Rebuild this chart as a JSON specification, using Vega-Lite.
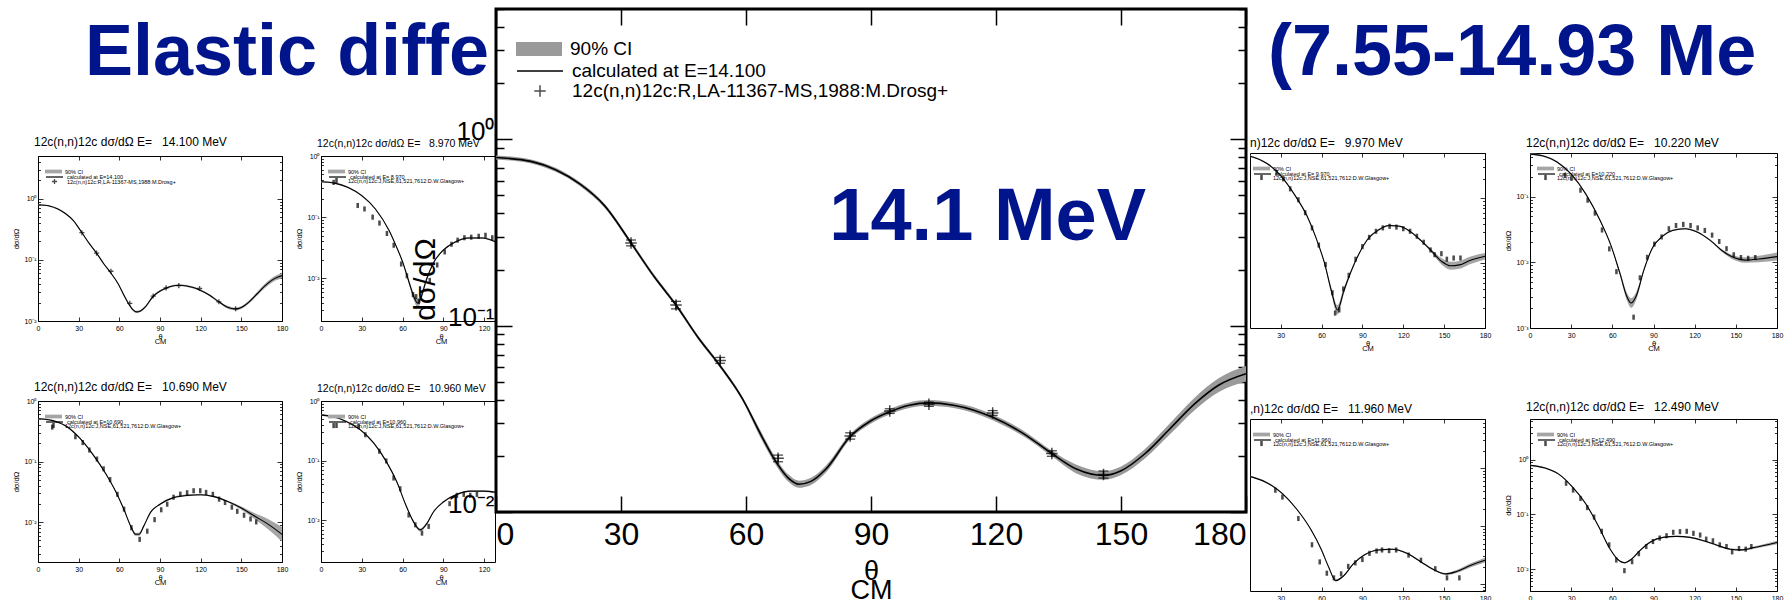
{
 "$schema": "https://vega.github.io/schema/vega-lite/v6.json",
 "background": "white",
 "padding": {"left": 12, "top": 6, "right": 0, "bottom": 0},
 "config": {
  "font": "Liberation Sans",
  "view": {"stroke": "black", "strokeWidth": 1},
  "axis": {"domain": false, "grid": false, "tickColor": "black", "labelColor": "black", "titleColor": "black", "labelFont": "Liberation Sans", "titleFont": "Liberation Sans", "titleFontWeight": "normal", "tickWidth": 0.8},
  "title": {"font": "Liberation Sans", "fontSize": 12, "fontWeight": "normal", "anchor": "start", "frame": "group", "color": "black", "offset": 3, "dx": -4},
  "legend": {"orient": "none", "padding": 0, "labelFont": "Liberation Sans", "labelColor": "black", "labelLimit": 900, "labelOffset": 3, "labelFontSize": 5.5, "symbolSize": 289, "rowPadding": 0}
 },
 "datasets": {
  "c14": [
   {"t":0,"y":0.798,"lo":0.779,"hi":0.818},{"t":8.4,"y":0.761,"lo":0.742,"hi":0.78},{"t":14.3,"y":0.686,"lo":0.669,"hi":0.703},
   {"t":20.2,"y":0.574,"lo":0.56,"hi":0.588},{"t":26.1,"y":0.439,"lo":0.428,"hi":0.45},{"t":32.4,"y":0.278,"lo":0.271,"hi":0.285},
   {"t":37.9,"y":0.184,"lo":0.1795,"hi":0.1886},{"t":43.2,"y":0.129,"lo":0.1259,"hi":0.1322},{"t":48.5,"y":0.0864,"lo":0.0843,"hi":0.0886},
   {"t":53.8,"y":0.0607,"lo":0.0592,"hi":0.0622},{"t":59.1,"y":0.0407,"lo":0.0397,"hi":0.0417},{"t":63.8,"y":0.0254,"lo":0.0243,"hi":0.0265},
   {"t":67.4,"y":0.0183,"lo":0.0175,"hi":0.0191},{"t":70.3,"y":0.0151,"lo":0.01445,"hi":0.01578},{"t":72.7,"y":0.0141,"lo":0.01349,"hi":0.01473},
   {"t":75.6,"y":0.0146,"lo":0.01397,"hi":0.01526},{"t":79.2,"y":0.017,"lo":0.01627,"hi":0.01777},{"t":85,"y":0.0254,"lo":0.02454,"hi":0.02629},
   {"t":89.8,"y":0.0307,"lo":0.02966,"hi":0.03177},{"t":94.5,"y":0.0345,"lo":0.03333,"hi":0.03571},{"t":99.2,"y":0.0374,"lo":0.03614,"hi":0.03871},
   {"t":103.9,"y":0.0385,"lo":0.0372,"hi":0.03985},{"t":109.8,"y":0.0374,"lo":0.03614,"hi":0.03871},{"t":114.5,"y":0.0353,"lo":0.03411,"hi":0.03654},
   {"t":119.2,"y":0.0322,"lo":0.03111,"hi":0.03333},{"t":126.3,"y":0.0266,"lo":0.0257,"hi":0.02753},{"t":133.4,"y":0.0206,"lo":0.0199,"hi":0.02132},
   {"t":139.3,"y":0.017,"lo":0.01611,"hi":0.01794},{"t":145.8,"y":0.0157,"lo":0.01488,"hi":0.01656},{"t":149.9,"y":0.0166,"lo":0.01573,"hi":0.01751},
   {"t":155.8,"y":0.0206,"lo":0.01943,"hi":0.02184},{"t":161.7,"y":0.0279,"lo":0.02607,"hi":0.02985},{"t":167.6,"y":0.0379,"lo":0.03509,"hi":0.04093},
   {"t":173.5,"y":0.048,"lo":0.04404,"hi":0.05232},{"t":180,"y":0.0552,"lo":0.05018,"hi":0.06072}
  ],
  "e14": [
   {"t":32.4,"y":0.278,"lo":0.268,"hi":0.288},{"t":43.2,"y":0.129,"lo":0.123,"hi":0.135},{"t":53.8,"y":0.0651,"lo":0.0628,"hi":0.0675},
   {"t":67.7,"y":0.0194,"lo":0.0186,"hi":0.0202},{"t":85,"y":0.0256,"lo":0.0246,"hi":0.0266},{"t":94.5,"y":0.0348,"lo":0.0338,"hi":0.0358},
   {"t":103.9,"y":0.0379,"lo":0.0369,"hi":0.0389},{"t":119.2,"y":0.034,"lo":0.033,"hi":0.035},{"t":133.4,"y":0.0206,"lo":0.0199,"hi":0.0213},
   {"t":145.8,"y":0.0159,"lo":0.0152,"hi":0.0166}
  ],
  "c897": [
   {"t":0,"y":0.38,"lo":0.369,"hi":0.391},{"t":10,"y":0.36,"lo":0.35,"hi":0.371},{"t":20,"y":0.306,"lo":0.297,"hi":0.315},
   {"t":30,"y":0.225,"lo":0.218,"hi":0.232},{"t":40,"y":0.136,"lo":0.132,"hi":0.14},{"t":50,"y":0.0608,"lo":0.059,"hi":0.0626},
   {"t":55,"y":0.0347,"lo":0.0337,"hi":0.0357},{"t":60,"y":0.0186,"lo":0.0181,"hi":0.0192},{"t":65,"y":0.0083,"lo":0.00769,"hi":0.00896},
   {"t":68.75,"y":0.0047,"lo":0.00409,"hi":0.0054},{"t":71.25,"y":0.0039,"lo":0.0033,"hi":0.0046},{"t":73.75,"y":0.005,"lo":0.00435,"hi":0.00575},
   {"t":77.5,"y":0.0094,"lo":0.0087,"hi":0.01015},{"t":82.5,"y":0.0175,"lo":0.017,"hi":0.018},{"t":90,"y":0.0288,"lo":0.028,"hi":0.0297},
   {"t":98.75,"y":0.0393,"lo":0.0382,"hi":0.0405},{"t":108.75,"y":0.0457,"lo":0.0444,"hi":0.0471},{"t":118.75,"y":0.0457,"lo":0.0444,"hi":0.0471},
   {"t":128.75,"y":0.039,"lo":0.0379,"hi":0.0402},{"t":135,"y":0.033,"lo":0.032,"hi":0.034}
  ],
  "e897": [
   {"t":9.3,"y":0.37},{"t":27,"y":0.155},{"t":32,"y":0.136},{"t":38,"y":0.1},{"t":43,"y":0.08},{"t":48.5,"y":0.054},
   {"t":53.5,"y":0.0347},{"t":59,"y":0.0171},{"t":63.2,"y":0.011},{"t":67.7,"y":0.0054},{"t":70,"y":0.005},{"t":72,"y":0.0042},
   {"t":80,"y":0.0092},{"t":85.5,"y":0.0165},{"t":91,"y":0.027},{"t":96,"y":0.036},{"t":100.5,"y":0.042},{"t":105.5,"y":0.046},
   {"t":110.5,"y":0.047},{"t":116,"y":0.0486},{"t":121,"y":0.0505},{"t":126,"y":0.046}
  ],
  "c1069": [
   {"t":0,"y":0.51,"lo":0.495,"hi":0.525},{"t":11,"y":0.474,"lo":0.46,"hi":0.488},{"t":20.8,"y":0.384,"lo":0.373,"hi":0.396},
   {"t":30.5,"y":0.248,"lo":0.241,"hi":0.255},{"t":40.3,"y":0.133,"lo":0.129,"hi":0.137},{"t":50,"y":0.063,"lo":0.0612,"hi":0.0649},
   {"t":57.4,"y":0.0318,"lo":0.0309,"hi":0.0328},{"t":63.5,"y":0.016,"lo":0.0155,"hi":0.0165},{"t":68.4,"y":0.0086,"lo":0.0082,"hi":0.009},
   {"t":72,"y":0.0063,"lo":0.00594,"hi":0.00668},{"t":74.5,"y":0.0063,"lo":0.00594,"hi":0.00668},{"t":78,"y":0.0086,"lo":0.0082,"hi":0.009},
   {"t":83,"y":0.0145,"lo":0.0141,"hi":0.0149},{"t":90,"y":0.0198,"lo":0.0192,"hi":0.0204},{"t":100,"y":0.0254,"lo":0.0247,"hi":0.0262},
   {"t":110,"y":0.0277,"lo":0.0269,"hi":0.0285},{"t":120,"y":0.0284,"lo":0.0276,"hi":0.0293},{"t":130,"y":0.0264,"lo":0.0256,"hi":0.0272},
   {"t":140,"y":0.0219,"lo":0.0213,"hi":0.0226},{"t":150,"y":0.0171,"lo":0.0161,"hi":0.0181},{"t":160,"y":0.0125,"lo":0.0112,"hi":0.014},
   {"t":170,"y":0.0092,"lo":0.00754,"hi":0.01122},{"t":180,"y":0.0063,"lo":0.00477,"hi":0.00832}
  ],
  "e1069": [
   {"t":10.5,"y":0.37},{"t":27.6,"y":0.257},{"t":33,"y":0.206},{"t":37.9,"y":0.155},{"t":43.5,"y":0.11},{"t":48.4,"y":0.076},
   {"t":53.2,"y":0.0504},{"t":58.6,"y":0.0288},{"t":63.5,"y":0.0164},{"t":68.9,"y":0.0081},{"t":75,"y":0.0052},{"t":80.6,"y":0.0071},
   {"t":86,"y":0.011},{"t":90.9,"y":0.016},{"t":95.3,"y":0.0198},{"t":100,"y":0.0258},{"t":105,"y":0.029},{"t":110,"y":0.0306},
   {"t":114.8,"y":0.033},{"t":119.7,"y":0.033},{"t":124,"y":0.031},{"t":129,"y":0.0288},{"t":133.6,"y":0.024},{"t":138,"y":0.0211},
   {"t":143,"y":0.0177},{"t":147,"y":0.0151},{"t":152,"y":0.013},{"t":156.8,"y":0.0113},{"t":161,"y":0.0101}
  ],
  "c1096": [
   {"t":0,"y":0.58,"lo":0.563,"hi":0.597},{"t":9.3,"y":0.545,"lo":0.529,"hi":0.561},{"t":19,"y":0.45,"lo":0.437,"hi":0.464},
   {"t":29,"y":0.328,"lo":0.318,"hi":0.338},{"t":38.7,"y":0.198,"lo":0.192,"hi":0.204},{"t":48.5,"y":0.0927,"lo":0.09,"hi":0.0955},
   {"t":55.9,"y":0.0434,"lo":0.0421,"hi":0.0447},{"t":62,"y":0.019,"lo":0.0184,"hi":0.0196},{"t":68,"y":0.0095,"lo":0.00905,"hi":0.00998},
   {"t":73,"y":0.0069,"lo":0.00651,"hi":0.00731},{"t":78,"y":0.0089,"lo":0.00848,"hi":0.00935},{"t":82.8,"y":0.0139,"lo":0.0135,"hi":0.0143},
   {"t":90,"y":0.0203,"lo":0.0197,"hi":0.0209},{"t":100,"y":0.0272,"lo":0.0264,"hi":0.028},{"t":109.8,"y":0.0308,"lo":0.0299,"hi":0.0317},
   {"t":120,"y":0.0308,"lo":0.0299,"hi":0.0317},{"t":130,"y":0.029,"lo":0.0282,"hi":0.0299}
  ],
  "e1096": [
   {"t":9.3,"y":0.387},{"t":27.7,"y":0.373},{"t":32.6,"y":0.272},{"t":42.9,"y":0.144},{"t":48,"y":0.0988},{"t":53.4,"y":0.0512},
   {"t":58.3,"y":0.0337},{"t":64.5,"y":0.0123},{"t":69.4,"y":0.0084},{"t":74.3,"y":0.0061},{"t":79.2,"y":0.0079},{"t":94.6,"y":0.019},
   {"t":100,"y":0.0262},{"t":105,"y":0.0272},{"t":109.8,"y":0.0262},{"t":114.7,"y":0.0272}
  ],
  "c997": [
   {"t":0,"y":0.46,"lo":0.447,"hi":0.474},{"t":10,"y":0.43,"lo":0.417,"hi":0.443},{"t":19.7,"y":0.347,"lo":0.337,"hi":0.357},
   {"t":30,"y":0.224,"lo":0.217,"hi":0.231},{"t":40.3,"y":0.113,"lo":0.11,"hi":0.116},{"t":49.3,"y":0.0537,"lo":0.0521,"hi":0.0553},
   {"t":55.7,"y":0.0254,"lo":0.0247,"hi":0.0262},{"t":62.2,"y":0.01,"lo":0.00952,"hi":0.0105},{"t":67.3,"y":0.0037,"lo":0.0033,"hi":0.00414},
   {"t":71.7,"y":0.0019,"lo":0.00161,"hi":0.00224},{"t":76.3,"y":0.0037,"lo":0.0033,"hi":0.00414},{"t":81.5,"y":0.0073,"lo":0.00695,"hi":0.00767},
   {"t":87.9,"y":0.0145,"lo":0.0141,"hi":0.0149},{"t":94.3,"y":0.024,"lo":0.0233,"hi":0.0247},{"t":102,"y":0.0327,"lo":0.0317,"hi":0.0337},
   {"t":109.8,"y":0.038,"lo":0.0369,"hi":0.0391},{"t":117.5,"y":0.037,"lo":0.0359,"hi":0.0381},{"t":125.2,"y":0.0306,"lo":0.0297,"hi":0.0315},
   {"t":132.9,"y":0.0224,"lo":0.0217,"hi":0.0231},{"t":140.6,"y":0.0155,"lo":0.0146,"hi":0.0164},{"t":148.3,"y":0.0106,"lo":0.00946,"hi":0.01187},
   {"t":154.8,"y":0.0091,"lo":0.00791,"hi":0.01047},{"t":161.2,"y":0.0094,"lo":0.00817,"hi":0.01081},{"t":168.9,"y":0.011,"lo":0.00965,"hi":0.01254},
   {"t":180,"y":0.0128,"lo":0.01143,"hi":0.01434}
  ],
  "e997": [
   {"t":27,"y":0.25},{"t":32,"y":0.2},{"t":37,"y":0.14},{"t":43,"y":0.095},{"t":48,"y":0.06},{"t":53,"y":0.035},{"t":58,"y":0.019},
   {"t":63,"y":0.0095},{"t":68,"y":0.0035},{"t":70,"y":0.0017},{"t":73,"y":0.0019},{"t":76,"y":0.004},{"t":80,"y":0.0065},
   {"t":85,"y":0.0115},{"t":90,"y":0.018},{"t":95,"y":0.025},{"t":100,"y":0.031},{"t":105,"y":0.035},{"t":110,"y":0.037},
   {"t":115,"y":0.036},{"t":120,"y":0.034},{"t":125,"y":0.031},{"t":130,"y":0.026},{"t":135,"y":0.021},{"t":140,"y":0.016},
   {"t":143,"y":0.0135},{"t":148,"y":0.014},{"t":152,"y":0.0115},{"t":157,"y":0.012},{"t":162,"y":0.012}
  ],
  "c1022": [
   {"t":0,"y":0.443,"lo":0.43,"hi":0.456},{"t":9.2,"y":0.417,"lo":0.405,"hi":0.43},{"t":19.7,"y":0.336,"lo":0.326,"hi":0.346},
   {"t":30.2,"y":0.217,"lo":0.211,"hi":0.224},{"t":40.7,"y":0.109,"lo":0.106,"hi":0.112},{"t":51.2,"y":0.0427,"lo":0.0415,"hi":0.044},
   {"t":59.1,"y":0.0178,"lo":0.0173,"hi":0.0183},{"t":65.7,"y":0.0066,"lo":0.00611,"hi":0.00713},{"t":70.9,"y":0.0029,"lo":0.00252,"hi":0.00334},
   {"t":73.6,"y":0.0024,"lo":0.00203,"hi":0.00283},{"t":77.5,"y":0.0031,"lo":0.0027,"hi":0.00357},{"t":82.8,"y":0.0074,"lo":0.00698,"hi":0.00784},
   {"t":89.3,"y":0.0167,"lo":0.0162,"hi":0.0172},{"t":95.9,"y":0.0243,"lo":0.0236,"hi":0.025},{"t":103.8,"y":0.0305,"lo":0.0296,"hi":0.0314},
   {"t":113,"y":0.0324,"lo":0.0315,"hi":0.0334},{"t":122.2,"y":0.0286,"lo":0.0278,"hi":0.0295},{"t":131.4,"y":0.0215,"lo":0.0209,"hi":0.0221},
   {"t":140.6,"y":0.0147,"lo":0.014,"hi":0.0154},{"t":148.5,"y":0.0118,"lo":0.0109,"hi":0.0127},{"t":156.3,"y":0.0108,"lo":0.00982,"hi":0.01188},
   {"t":166.8,"y":0.0112,"lo":0.01,"hi":0.01254},{"t":180,"y":0.0122,"lo":0.01061,"hi":0.01403}
  ],
  "e1022": [
   {"t":25.5,"y":0.21},{"t":30.2,"y":0.19},{"t":36.8,"y":0.125},{"t":42,"y":0.088},{"t":47.3,"y":0.056},{"t":52.5,"y":0.031},
   {"t":57.8,"y":0.016},{"t":63,"y":0.0072},{"t":75.5,"y":0.00146},{"t":80.1,"y":0.0058},{"t":85.4,"y":0.0119},{"t":90.6,"y":0.0189},
   {"t":95.9,"y":0.0243},{"t":101.2,"y":0.0324},{"t":106.4,"y":0.0363},{"t":111.7,"y":0.0377},{"t":117,"y":0.0363},{"t":122.2,"y":0.0333},
   {"t":127.4,"y":0.0305},{"t":132.7,"y":0.0259},{"t":137.9,"y":0.0207},{"t":143.2,"y":0.0161},{"t":148.5,"y":0.013},{"t":153.7,"y":0.0118},
   {"t":159,"y":0.0115},{"t":164.2,"y":0.0118}
  ],
  "c1196": [
   {"t":0,"y":0.762,"lo":0.74,"hi":0.785},{"t":10.4,"y":0.684,"lo":0.664,"hi":0.705},{"t":20.9,"y":0.543,"lo":0.527,"hi":0.559},
   {"t":31.3,"y":0.362,"lo":0.351,"hi":0.373},{"t":41.7,"y":0.197,"lo":0.191,"hi":0.203},{"t":52.2,"y":0.0873,"lo":0.0848,"hi":0.0899},
   {"t":60,"y":0.0387,"lo":0.0376,"hi":0.0399},{"t":65.2,"y":0.0197,"lo":0.0191,"hi":0.0203},{"t":70.4,"y":0.0115,"lo":0.011,"hi":0.0121},
   {"t":75.7,"y":0.0135,"lo":0.0131,"hi":0.0139},{"t":83.5,"y":0.0225,"lo":0.0218,"hi":0.0232},{"t":91.3,"y":0.0316,"lo":0.0307,"hi":0.0325},
   {"t":101.7,"y":0.0387,"lo":0.0376,"hi":0.0399},{"t":112.2,"y":0.0398,"lo":0.0386,"hi":0.041},{"t":122.6,"y":0.0339,"lo":0.0329,"hi":0.0349},
   {"t":133,"y":0.0241,"lo":0.0234,"hi":0.0248},{"t":143.5,"y":0.0172,"lo":0.0167,"hi":0.0177},{"t":151.3,"y":0.015,"lo":0.0144,"hi":0.0156},
   {"t":159.1,"y":0.0165,"lo":0.0156,"hi":0.0175},{"t":169.6,"y":0.0211,"lo":0.0195,"hi":0.0228},{"t":180,"y":0.0258,"lo":0.0235,"hi":0.0284}
  ],
  "e1196": [
   {"t":26.1,"y":0.415},{"t":31.3,"y":0.316},{"t":43,"y":0.135},{"t":53,"y":0.0476},{"t":58.7,"y":0.0241},{"t":63.9,"y":0.0154},
   {"t":69.1,"y":0.0128},{"t":74.4,"y":0.015},{"t":79.6,"y":0.0202},{"t":84.8,"y":0.0232},{"t":90,"y":0.0265},{"t":95.2,"y":0.0339},
   {"t":100.4,"y":0.0372},{"t":104.4,"y":0.0387},{"t":109.6,"y":0.0377},{"t":114.8,"y":0.0387},{"t":123.9,"y":0.0316},{"t":133,"y":0.0258},
   {"t":143.5,"y":0.0184},{"t":152.1,"y":0.0128},{"t":161.2,"y":0.0128}
  ],
  "c1249": [
   {"t":0,"y":0.785,"lo":0.762,"hi":0.809},{"t":11,"y":0.701,"lo":0.681,"hi":0.722},{"t":20.9,"y":0.543,"lo":0.527,"hi":0.559},
   {"t":30.7,"y":0.321,"lo":0.312,"hi":0.331},{"t":40.5,"y":0.158,"lo":0.153,"hi":0.163},{"t":50.3,"y":0.0582,"lo":0.0565,"hi":0.0599},
   {"t":57.7,"y":0.0248,"lo":0.0241,"hi":0.0255},{"t":63.9,"y":0.0151,"lo":0.0147,"hi":0.0156},{"t":68.8,"y":0.0131,"lo":0.0127,"hi":0.0135},
   {"t":73.7,"y":0.0151,"lo":0.0147,"hi":0.0156},{"t":79.8,"y":0.0215,"lo":0.0209,"hi":0.0221},{"t":87.2,"y":0.0307,"lo":0.0298,"hi":0.0316},
   {"t":97,"y":0.038,"lo":0.0369,"hi":0.0391},{"t":106.8,"y":0.0397,"lo":0.0385,"hi":0.0409},{"t":116.6,"y":0.038,"lo":0.0369,"hi":0.0391},
   {"t":126.5,"y":0.033,"lo":0.032,"hi":0.034},{"t":136.3,"y":0.0274,"lo":0.0266,"hi":0.0282},{"t":146.1,"y":0.0231,"lo":0.0224,"hi":0.0238},
   {"t":153.5,"y":0.0225,"lo":0.0216,"hi":0.0234},{"t":163.3,"y":0.0248,"lo":0.0236,"hi":0.026},{"t":180,"y":0.0307,"lo":0.0284,"hi":0.0332}
  ],
  "e1249": [
   {"t":26.3,"y":0.37},{"t":31.4,"y":0.278},{"t":36.8,"y":0.195},{"t":41.7,"y":0.133},{"t":46.7,"y":0.0893},{"t":52.3,"y":0.0491},
   {"t":57.7,"y":0.0278},{"t":62.9,"y":0.0147},{"t":68.8,"y":0.0094},{"t":74.4,"y":0.0137},{"t":79.3,"y":0.0192},{"t":84.7,"y":0.0259},
   {"t":89.6,"y":0.032},{"t":94.5,"y":0.037},{"t":99.5,"y":0.0408},{"t":104.4,"y":0.0471},{"t":109.3,"y":0.0484},{"t":114.2,"y":0.0491},
   {"t":119.1,"y":0.0451},{"t":124,"y":0.042},{"t":128.4,"y":0.0354},{"t":133.3,"y":0.033},{"t":138.3,"y":0.0278},{"t":143.2,"y":0.0259},
   {"t":147.3,"y":0.0207},{"t":152.3,"y":0.0238},{"t":157.2,"y":0.0232},{"t":161.3,"y":0.0259}
  ]
 },
 "resolve": {"scale": {"fill": "independent", "stroke": "independent", "shape": "independent"}},
 "spacing": 0,
 "hconcat": [
  {
   "spacing": -103,
   "resolve": {"scale": {"fill": "independent", "stroke": "independent", "shape": "independent"}},
   "hconcat": [
    {
     "spacing": 46,
     "resolve": {"scale": {"fill": "independent", "stroke": "independent", "shape": "independent"}},
     "vconcat": [
      {
       "width": 430, "height": 1,
       "view": {"stroke": null},
       "title": {"text": "Elastic diffe", "orient": "bottom", "anchor": "start", "frame": "group", "fontSize": 72, "fontWeight": "bold", "color": "#00148c", "offset": 8, "dx": 47},
       "data": {"values": [{}]},
       "mark": {"type": "text", "text": " ", "fontSize": 1},
       "encoding": {}
      },
      {
       "columns": 2,
       "align": "each",
       "spacing": {"row": 35, "column": 6},
       "resolve": {"scale": {"fill": "independent", "stroke": "independent", "shape": "independent"}},
       "concat": [
        {
         "width": 244, "height": 165,
         "title": {"text": "12c(n,n)12c dσ/dΩ E=\u00a0\u00a0 14.100 MeV"},
         "layer": [
          {"data": {"name": "c14"}, "mark": {"type": "area", "interpolate": "monotone", "color": "#a5a5a5", "clip": true},
           "encoding": {
            "x": {"field": "t", "type": "quantitative", "scale": {"domain": [0, 180], "nice": false}, "axis": {"orient": "bottom", "values": [0,30,60,90,120,150,180], "labelFontSize": 7, "labelFlush": false, "tickSize": -4, "labelPadding": 7, "title": ["θ", "\u00a0\u00a0\u00a0CM"], "titleFontSize": 7.5, "titleLineHeight": 5, "titlePadding": 1}},
            "y": {"field": "lo", "type": "quantitative", "scale": {"type": "log", "domain": [0.01, 5], "nice": false}, "axis": {"orient": "left", "tickCount": 10, "labelOverlap": false, "labelExpr": "datum.value == 1 ? '10⁰' : datum.value == 0.1 ? '10⁻¹' : datum.value == 0.01 ? '10⁻²' : datum.value == 0.001 ? '10⁻³' : ''", "labelFontSize": 7, "tickSize": {"condition": {"test": "datum.value == 1 || datum.value == 0.1 || datum.value == 0.01 || datum.value == 0.001", "value": -5}, "value": -2.5}, "labelPadding": 7, "title": "dσ/dΩ", "titleFontSize": 7.5, "titlePadding": 3}},
            "y2": {"field": "hi"},
            "fill": {"datum": "90% CI", "scale": {"range": ["#a5a5a5"]}, "legend": {"title": null, "legendX": 7, "legendY": 7, "symbolType": "M-1,-0.22H1V0.22H-1Z", "symbolStrokeWidth": 0}}
           }},
          {"data": {"name": "c14"}, "mark": {"type": "line", "interpolate": "monotone", "strokeWidth": 1.1, "clip": true},
           "encoding": {
            "x": {"field": "t", "type": "quantitative", "axis": {"orient": "top", "values": [0,30,60,90,120,150,180], "labels": false, "tickSize": -4, "title": null}},
            "y": {"field": "y", "type": "quantitative", "axis": {"orient": "right", "tickCount": 10, "labels": false, "tickSize": {"condition": {"test": "datum.value == 1 || datum.value == 0.1 || datum.value == 0.01 || datum.value == 0.001", "value": -5}, "value": -2.5}, "title": null}},
            "stroke": {"datum": "calculated at E=14.100", "scale": {"range": ["black"]}, "legend": {"title": null, "legendX": 7, "legendY": 11.5, "symbolType": "stroke", "symbolStrokeWidth": 1.2}}
           }},
          {"data": {"name": "e14"}, "mark": {"type": "point", "filled": false, "color": "black", "strokeWidth": 1.3, "size": 289, "clip": true},
           "encoding": {
            "x": {"field": "t", "type": "quantitative", "axis": null},
            "y": {"field": "y", "type": "quantitative", "axis": null},
            "shape": {"datum": "12c(n,n)12c:R,LA-11367-MS,1988:M.Drosg+", "scale": {"range": ["M-0.3,0H0.3M0,-0.3V0.3"]}, "legend": {"title": null, "legendX": 7, "legendY": 16, "symbolStrokeColor": "black", "symbolStrokeWidth": 1.3, "symbolFillColor": "transparent"}}
           }}
         ],
         "resolve": {"axis": {"x": "independent", "y": "independent"}}
        },
        {
         "width": 174, "height": 165,
         "title": {"text": "12c(n,n)12c dσ/dΩ E=\u00a0\u00a0 8.970 MeV", "fontSize": 10.5},
         "layer": [
          {"data": {"name": "c897"}, "mark": {"type": "area", "interpolate": "monotone", "color": "#a5a5a5", "clip": true},
           "encoding": {
            "x": {"field": "t", "type": "quantitative", "scale": {"domain": [0, 128], "nice": false}, "axis": {"orient": "bottom", "values": [0,30,60,90,120], "labelFontSize": 7, "labelFlush": false, "tickSize": -4, "labelPadding": 7, "title": ["θ", "\u00a0\u00a0\u00a0CM"], "titleFontSize": 7.5, "titleLineHeight": 5, "titlePadding": 1, "titleX": 120}},
            "y": {"field": "lo", "type": "quantitative", "scale": {"type": "log", "domain": [0.002, 1], "nice": false}, "axis": {"orient": "left", "tickCount": 10, "labelOverlap": false, "labelExpr": "datum.value == 1 ? '10⁰' : datum.value == 0.1 ? '10⁻¹' : datum.value == 0.01 ? '10⁻²' : datum.value == 0.001 ? '10⁻³' : ''", "labelFontSize": 7, "tickSize": {"condition": {"test": "datum.value == 1 || datum.value == 0.1 || datum.value == 0.01 || datum.value == 0.001", "value": -5}, "value": -2.5}, "labelPadding": 7, "title": "dσ/dΩ", "titleFontSize": 7.5, "titlePadding": 3}},
            "y2": {"field": "hi"},
            "fill": {"datum": "90% CI", "scale": {"range": ["#a5a5a5"]}, "legend": {"title": null, "legendX": 7, "legendY": 7, "symbolType": "M-1,-0.22H1V0.22H-1Z", "symbolStrokeWidth": 0}}
           }},
          {"data": {"name": "c897"}, "mark": {"type": "line", "interpolate": "monotone", "strokeWidth": 1.1, "clip": true},
           "encoding": {
            "x": {"field": "t", "type": "quantitative", "axis": {"orient": "top", "values": [0,30,60,90,120], "labels": false, "tickSize": -4, "title": null}},
            "y": {"field": "y", "type": "quantitative", "axis": null},
            "stroke": {"datum": "calculated at E= 8.970", "scale": {"range": ["black"]}, "legend": {"title": null, "legendX": 7, "legendY": 11.5, "symbolType": "stroke", "symbolStrokeWidth": 1.2}}
           }},
          {"data": {"name": "e897"}, "mark": {"type": "point", "filled": true, "color": "black", "size": 289, "clip": true},
           "encoding": {
            "x": {"field": "t", "type": "quantitative", "axis": null},
            "y": {"field": "y", "type": "quantitative", "axis": null},
            "shape": {"datum": "12c(n,n)12c:J,NSE,61,521,7612:D.W.Glasgow+", "scale": {"range": ["M-0.15,-0.3H0.15V0.3H-0.15Z"]}, "legend": {"title": null, "legendX": 7, "legendY": 16, "symbolFillColor": "black", "symbolStrokeWidth": 0}}
           }}
         ],
         "resolve": {"axis": {"x": "independent", "y": "independent"}}
        },
        {
         "width": 244, "height": 161,
         "title": {"text": "12c(n,n)12c dσ/dΩ E=\u00a0\u00a0 10.690 MeV"},
         "layer": [
          {"data": {"name": "c1069"}, "mark": {"type": "area", "interpolate": "monotone", "color": "#a5a5a5", "clip": true},
           "encoding": {
            "x": {"field": "t", "type": "quantitative", "scale": {"domain": [0, 180], "nice": false}, "axis": {"orient": "bottom", "values": [0,30,60,90,120,150,180], "labelFontSize": 7, "labelFlush": false, "tickSize": -4, "labelPadding": 7, "title": ["θ", "\u00a0\u00a0\u00a0CM"], "titleFontSize": 7.5, "titleLineHeight": 5, "titlePadding": 1}},
            "y": {"field": "lo", "type": "quantitative", "scale": {"type": "log", "domain": [0.0022, 1], "nice": false}, "axis": {"orient": "left", "tickCount": 10, "labelOverlap": false, "labelExpr": "datum.value == 1 ? '10⁰' : datum.value == 0.1 ? '10⁻¹' : datum.value == 0.01 ? '10⁻²' : datum.value == 0.001 ? '10⁻³' : ''", "labelFontSize": 7, "tickSize": {"condition": {"test": "datum.value == 1 || datum.value == 0.1 || datum.value == 0.01 || datum.value == 0.001", "value": -5}, "value": -2.5}, "labelPadding": 7, "title": "dσ/dΩ", "titleFontSize": 7.5, "titlePadding": 3}},
            "y2": {"field": "hi"},
            "fill": {"datum": "90% CI", "scale": {"range": ["#a5a5a5"]}, "legend": {"title": null, "legendX": 7, "legendY": 7, "symbolType": "M-1,-0.22H1V0.22H-1Z", "symbolStrokeWidth": 0}}
           }},
          {"data": {"name": "c1069"}, "mark": {"type": "line", "interpolate": "monotone", "strokeWidth": 1.1, "clip": true},
           "encoding": {
            "x": {"field": "t", "type": "quantitative", "axis": {"orient": "top", "values": [0,30,60,90,120,150,180], "labels": false, "tickSize": -4, "title": null}},
            "y": {"field": "y", "type": "quantitative", "axis": {"orient": "right", "tickCount": 10, "labels": false, "tickSize": {"condition": {"test": "datum.value == 1 || datum.value == 0.1 || datum.value == 0.01 || datum.value == 0.001", "value": -5}, "value": -2.5}, "title": null}},
            "stroke": {"datum": "calculated at E=10.690", "scale": {"range": ["black"]}, "legend": {"title": null, "legendX": 7, "legendY": 11.5, "symbolType": "stroke", "symbolStrokeWidth": 1.2}}
           }},
          {"data": {"name": "e1069"}, "mark": {"type": "point", "filled": true, "color": "black", "size": 289, "clip": true},
           "encoding": {
            "x": {"field": "t", "type": "quantitative", "axis": null},
            "y": {"field": "y", "type": "quantitative", "axis": null},
            "shape": {"datum": "12c(n,n)12c:J,NSE,61,521,7612:D.W.Glasgow+", "scale": {"range": ["M-0.15,-0.3H0.15V0.3H-0.15Z"]}, "legend": {"title": null, "legendX": 7, "legendY": 16, "symbolFillColor": "black", "symbolStrokeWidth": 0}}
           }}
         ],
         "resolve": {"axis": {"x": "independent", "y": "independent"}}
        },
        {
         "width": 174, "height": 161,
         "title": {"text": "12c(n,n)12c dσ/dΩ E=\u00a0\u00a0 10.960 MeV", "fontSize": 10.5},
         "layer": [
          {"data": {"name": "c1096"}, "mark": {"type": "area", "interpolate": "monotone", "color": "#a5a5a5", "clip": true},
           "encoding": {
            "x": {"field": "t", "type": "quantitative", "scale": {"domain": [0, 128], "nice": false}, "axis": {"orient": "bottom", "values": [0,30,60,90,120], "labelFontSize": 7, "labelFlush": false, "tickSize": -4, "labelPadding": 7, "title": ["θ", "\u00a0\u00a0\u00a0CM"], "titleFontSize": 7.5, "titleLineHeight": 5, "titlePadding": 1, "titleX": 120}},
            "y": {"field": "lo", "type": "quantitative", "scale": {"type": "log", "domain": [0.002, 1], "nice": false}, "axis": {"orient": "left", "tickCount": 10, "labelOverlap": false, "labelExpr": "datum.value == 1 ? '10⁰' : datum.value == 0.1 ? '10⁻¹' : datum.value == 0.01 ? '10⁻²' : datum.value == 0.001 ? '10⁻³' : ''", "labelFontSize": 7, "tickSize": {"condition": {"test": "datum.value == 1 || datum.value == 0.1 || datum.value == 0.01 || datum.value == 0.001", "value": -5}, "value": -2.5}, "labelPadding": 7, "title": "dσ/dΩ", "titleFontSize": 7.5, "titlePadding": 3}},
            "y2": {"field": "hi"},
            "fill": {"datum": "90% CI", "scale": {"range": ["#a5a5a5"]}, "legend": {"title": null, "legendX": 7, "legendY": 7, "symbolType": "M-1,-0.22H1V0.22H-1Z", "symbolStrokeWidth": 0}}
           }},
          {"data": {"name": "c1096"}, "mark": {"type": "line", "interpolate": "monotone", "strokeWidth": 1.1, "clip": true},
           "encoding": {
            "x": {"field": "t", "type": "quantitative", "axis": {"orient": "top", "values": [0,30,60,90,120], "labels": false, "tickSize": -4, "title": null}},
            "y": {"field": "y", "type": "quantitative", "axis": null},
            "stroke": {"datum": "calculated at E=10.960", "scale": {"range": ["black"]}, "legend": {"title": null, "legendX": 7, "legendY": 11.5, "symbolType": "stroke", "symbolStrokeWidth": 1.2}}
           }},
          {"data": {"name": "e1096"}, "mark": {"type": "point", "filled": true, "color": "black", "size": 289, "clip": true},
           "encoding": {
            "x": {"field": "t", "type": "quantitative", "axis": null},
            "y": {"field": "y", "type": "quantitative", "axis": null},
            "shape": {"datum": "12c(n,n)12c:J,NSE,61,521,7612:D.W.Glasgow+", "scale": {"range": ["M-0.15,-0.3H0.15V0.3H-0.15Z"]}, "legend": {"title": null, "legendX": 7, "legendY": 16, "symbolFillColor": "black", "symbolStrokeWidth": 0}}
           }}
         ],
         "resolve": {"axis": {"x": "independent", "y": "independent"}}
        }
       ]
      }
     ]
    },
    {
     "width": 750, "height": 503,
     "view": {"stroke": "black", "strokeWidth": 3, "fill": "white"},
     "layer": [
      {"data": {"name": "c14"}, "mark": {"type": "area", "interpolate": "monotone", "color": "#9a9a9a", "clip": true},
       "encoding": {
        "x": {"field": "t", "type": "quantitative", "scale": {"domain": [0, 180], "nice": false}, "axis": {"orient": "bottom", "values": [0,30,60,90,120,150,180], "labelFontSize": 32, "labelFlush": true, "tickSize": -16, "tickWidth": 1.5, "labelPadding": 23, "title": ["θ\u00a0\u00a0", "\u00a0\u00a0\u00a0CM"], "titleFontSize": 27, "titleLineHeight": 19, "titlePadding": 8}},
        "y": {"field": "lo", "type": "quantitative", "scale": {"type": "log", "domain": [0.01, 5], "nice": false}, "axis": {"orient": "left", "tickCount": 10, "labelOverlap": false, "labelExpr": "datum.value == 1 ? '10⁰' : datum.value == 0.1 ? '10⁻¹' : datum.value == 0.01 ? '10⁻²' : ''", "labelFontSize": {"condition": {"test": "datum.value == 1 || datum.value == 0.1 || datum.value == 0.01", "value": 26}, "value": 0}, "labelBaseline": "alphabetic", "tickWidth": 1.5, "tickSize": {"condition": {"test": "datum.value == 1 || datum.value == 0.1 || datum.value == 0.01", "value": -16}, "value": -8}, "labelPadding": 18, "title": "dσ/dΩ", "titleFontSize": 30, "titlePadding": 7, "titleY": 270}},
        "y2": {"field": "hi"},
        "fill": {"datum": "90% CI", "scale": {"range": ["#9a9a9a"]}, "legend": {"title": null, "legendX": 20, "legendY": 17, "symbolType": "M-1,-0.3H1V0.3H-1Z", "symbolSize": 2116, "symbolStrokeWidth": 0, "labelFontSize": 19, "labelOffset": 8}}
       }},
      {"data": {"name": "c14"}, "mark": {"type": "line", "interpolate": "monotone", "strokeWidth": 1.6, "clip": true},
       "encoding": {
        "x": {"field": "t", "type": "quantitative", "axis": {"orient": "top", "values": [0,30,60,90,120,150,180], "labels": false, "tickSize": -16, "tickWidth": 1.5, "title": null, "minExtent": 0}},
        "y": {"field": "y", "type": "quantitative", "axis": {"orient": "right", "tickCount": 10, "labels": false, "tickWidth": 1.5, "tickSize": {"condition": {"test": "datum.value == 1 || datum.value == 0.1 || datum.value == 0.01", "value": -16}, "value": -8}, "title": null, "minExtent": 0}},
        "stroke": {"datum": "calculated at E=14.100", "scale": {"range": ["black"]}, "legend": {"title": null, "legendX": 20, "legendY": 38, "symbolType": "stroke", "symbolSize": 2116, "symbolStrokeWidth": 1.6, "labelFontSize": 19, "labelOffset": 8}}
       }},
      {"data": {"name": "e14"}, "mark": {"type": "rule", "color": "black", "strokeWidth": 1.3},
       "encoding": {
        "x": {"field": "t", "type": "quantitative", "axis": null},
        "y": {"field": "lo", "type": "quantitative", "axis": null},
        "y2": {"field": "hi"}
       }},
      {"data": {"name": "e14"}, "mark": {"type": "tick", "color": "black", "orient": "horizontal", "size": 10, "thickness": 1.3},
       "encoding": {
        "x": {"field": "t", "type": "quantitative", "axis": null},
        "y": {"field": "lo", "type": "quantitative", "axis": null}
       }},
      {"data": {"name": "e14"}, "mark": {"type": "tick", "color": "black", "orient": "horizontal", "size": 10, "thickness": 1.3},
       "encoding": {
        "x": {"field": "t", "type": "quantitative", "axis": null},
        "y": {"field": "hi", "type": "quantitative", "axis": null}
       }},
      {"data": {"name": "e14"}, "mark": {"type": "point", "filled": false, "color": "black", "strokeWidth": 1.5, "size": 2116},
       "encoding": {
        "x": {"field": "t", "type": "quantitative", "axis": null},
        "y": {"field": "y", "type": "quantitative", "axis": null},
        "shape": {"datum": "12c(n,n)12c:R,LA-11367-MS,1988:M.Drosg+", "scale": {"range": ["M-0.25,0H0.25M0,-0.25V0.25"]}, "legend": {"title": null, "legendX": 20, "legendY": 58, "symbolSize": 2116, "symbolStrokeColor": "black", "symbolStrokeWidth": 1.5, "symbolFillColor": "transparent", "labelFontSize": 19, "labelOffset": 8}}
       }},
      {"data": {"values": [{}]}, "mark": {"type": "text", "text": "14.1 MeV", "font": "Liberation Sans", "fontSize": 74, "fontWeight": "bold", "color": "#00148c", "align": "center", "baseline": "middle"},
       "encoding": {
        "x": {"datum": 118, "type": "quantitative", "axis": null},
        "y": {"datum": 0.38, "type": "quantitative", "axis": null}
       }}
     ],
     "resolve": {"axis": {"x": "independent", "y": "independent"}}
    }
   ]
  },
  {
   "spacing": 47,
   "resolve": {"scale": {"fill": "independent", "stroke": "independent", "shape": "independent"}},
   "vconcat": [
    {
     "width": 500, "height": 1,
     "view": {"stroke": null},
     "title": {"text": "(7.55-14.93 Me", "orient": "bottom", "anchor": "start", "frame": "group", "fontSize": 72, "fontWeight": "bold", "color": "#00148c", "offset": 8, "dx": 18},
     "data": {"values": [{}]},
     "mark": {"type": "text", "text": " ", "fontSize": 1},
     "encoding": {}
    },
    {
     "columns": 2,
     "align": "each",
     "spacing": {"row": 48, "column": 12},
     "resolve": {"scale": {"fill": "independent", "stroke": "independent", "shape": "independent"}},
     "concat": [
      {
       "width": 235, "height": 175,
       "title": {"text": "n)12c dσ/dΩ E=\u00a0\u00a0 9.970 MeV", "dx": 0},
       "layer": [
        {"data": {"name": "c997"}, "mark": {"type": "area", "interpolate": "monotone", "color": "#a5a5a5", "clip": true},
         "encoding": {
          "x": {"field": "t", "type": "quantitative", "scale": {"domain": [7.5, 180], "nice": false, "zero": false}, "axis": {"orient": "bottom", "values": [30,60,90,120,150,180], "labelFontSize": 7, "labelFlush": false, "tickSize": -4, "labelPadding": 7, "title": ["θ", "\u00a0\u00a0\u00a0CM"], "titleFontSize": 7.5, "titleLineHeight": 5, "titlePadding": 1}},
          "y": {"field": "lo", "type": "quantitative", "scale": {"type": "log", "domain": [0.001, 0.5], "nice": false}, "axis": null},
          "y2": {"field": "hi"},
          "fill": {"datum": "90% CI", "scale": {"range": ["#a5a5a5"]}, "legend": {"title": null, "legendX": 3, "legendY": 7, "symbolType": "M-1,-0.22H1V0.22H-1Z", "symbolStrokeWidth": 0}}
         }},
        {"data": {"name": "c997"}, "mark": {"type": "line", "interpolate": "monotone", "strokeWidth": 1.1, "clip": true},
         "encoding": {
          "x": {"field": "t", "type": "quantitative", "axis": {"orient": "top", "values": [30,60,90,120,150,180], "labels": false, "tickSize": -4, "title": null}},
          "y": {"field": "y", "type": "quantitative", "axis": {"orient": "right", "tickCount": 10, "labels": false, "tickSize": {"condition": {"test": "datum.value == 1 || datum.value == 0.1 || datum.value == 0.01 || datum.value == 0.001", "value": -5}, "value": -2.5}, "title": null}},
          "stroke": {"datum": "calculated at E= 9.970", "scale": {"range": ["black"]}, "legend": {"title": null, "legendX": 3, "legendY": 11.5, "symbolType": "stroke", "symbolStrokeWidth": 1.2}}
         }},
        {"data": {"name": "e997"}, "mark": {"type": "point", "filled": true, "color": "black", "size": 289, "clip": true},
         "encoding": {
          "x": {"field": "t", "type": "quantitative", "axis": null},
          "y": {"field": "y", "type": "quantitative", "axis": null},
          "shape": {"datum": "12c(n,n)12c:J,NSE,61,521,7612:D.W.Glasgow+", "scale": {"range": ["M-0.15,-0.3H0.15V0.3H-0.15Z"]}, "legend": {"title": null, "legendX": 3, "legendY": 16, "symbolFillColor": "black", "symbolStrokeWidth": 0}}
         }}
       ],
       "resolve": {"axis": {"x": "independent", "y": "independent"}}
      },
      {
       "width": 247, "height": 175,
       "title": {"text": "12c(n,n)12c dσ/dΩ E=\u00a0\u00a0 10.220 MeV"},
       "layer": [
        {"data": {"name": "c1022"}, "mark": {"type": "area", "interpolate": "monotone", "color": "#a5a5a5", "clip": true},
         "encoding": {
          "x": {"field": "t", "type": "quantitative", "scale": {"domain": [0, 180], "nice": false}, "axis": {"orient": "bottom", "values": [0,30,60,90,120,150,180], "labelFontSize": 7, "labelFlush": false, "tickSize": -4, "labelPadding": 7, "title": ["θ", "\u00a0\u00a0\u00a0CM"], "titleFontSize": 7.5, "titleLineHeight": 5, "titlePadding": 1}},
          "y": {"field": "lo", "type": "quantitative", "scale": {"type": "log", "domain": [0.001, 0.46], "nice": false}, "axis": {"orient": "left", "tickCount": 10, "labelOverlap": false, "labelExpr": "datum.value == 1 ? '10⁰' : datum.value == 0.1 ? '10⁻¹' : datum.value == 0.01 ? '10⁻²' : datum.value == 0.001 ? '10⁻³' : ''", "labelFontSize": 7, "tickSize": {"condition": {"test": "datum.value == 1 || datum.value == 0.1 || datum.value == 0.01 || datum.value == 0.001", "value": -5}, "value": -2.5}, "labelPadding": 7, "title": "dσ/dΩ", "titleFontSize": 7.5, "titlePadding": 3}},
          "y2": {"field": "hi"},
          "fill": {"datum": "90% CI", "scale": {"range": ["#a5a5a5"]}, "legend": {"title": null, "legendX": 7, "legendY": 7, "symbolType": "M-1,-0.22H1V0.22H-1Z", "symbolStrokeWidth": 0}}
         }},
        {"data": {"name": "c1022"}, "mark": {"type": "line", "interpolate": "monotone", "strokeWidth": 1.1, "clip": true},
         "encoding": {
          "x": {"field": "t", "type": "quantitative", "axis": {"orient": "top", "values": [0,30,60,90,120,150,180], "labels": false, "tickSize": -4, "title": null}},
          "y": {"field": "y", "type": "quantitative", "axis": {"orient": "right", "tickCount": 10, "labels": false, "minExtent": 0, "tickSize": {"condition": {"test": "datum.value == 1 || datum.value == 0.1 || datum.value == 0.01 || datum.value == 0.001", "value": -5}, "value": -2.5}, "title": null}},
          "stroke": {"datum": "calculated at E=10.220", "scale": {"range": ["black"]}, "legend": {"title": null, "legendX": 7, "legendY": 11.5, "symbolType": "stroke", "symbolStrokeWidth": 1.2}}
         }},
        {"data": {"name": "e1022"}, "mark": {"type": "point", "filled": true, "color": "black", "size": 289, "clip": true},
         "encoding": {
          "x": {"field": "t", "type": "quantitative", "axis": null},
          "y": {"field": "y", "type": "quantitative", "axis": null},
          "shape": {"datum": "12c(n,n)12c:J,NSE,61,521,7612:D.W.Glasgow+", "scale": {"range": ["M-0.15,-0.3H0.15V0.3H-0.15Z"]}, "legend": {"title": null, "legendX": 7, "legendY": 16, "symbolFillColor": "black", "symbolStrokeWidth": 0}}
         }}
       ],
       "resolve": {"axis": {"x": "independent", "y": "independent"}}
      },
      {
       "width": 235, "height": 172,
       "title": {"text": ",n)12c dσ/dΩ E=\u00a0\u00a0 11.960 MeV", "dx": 0},
       "layer": [
        {"data": {"name": "c1196"}, "mark": {"type": "area", "interpolate": "monotone", "color": "#a5a5a5", "clip": true},
         "encoding": {
          "x": {"field": "t", "type": "quantitative", "scale": {"domain": [7.5, 180], "nice": false, "zero": false}, "axis": {"orient": "bottom", "values": [30,60,90,120,150,180], "labelFontSize": 7, "labelFlush": false, "tickSize": -4, "labelPadding": 7, "title": ["θ", "\u00a0\u00a0\u00a0CM"], "titleFontSize": 7.5, "titleLineHeight": 5, "titlePadding": 1}},
          "y": {"field": "lo", "type": "quantitative", "scale": {"type": "log", "domain": [0.0076, 7], "nice": false}, "axis": null},
          "y2": {"field": "hi"},
          "fill": {"datum": "90% CI", "scale": {"range": ["#a5a5a5"]}, "legend": {"title": null, "legendX": 3, "legendY": 7, "symbolType": "M-1,-0.22H1V0.22H-1Z", "symbolStrokeWidth": 0}}
         }},
        {"data": {"name": "c1196"}, "mark": {"type": "line", "interpolate": "monotone", "strokeWidth": 1.1, "clip": true},
         "encoding": {
          "x": {"field": "t", "type": "quantitative", "axis": {"orient": "top", "values": [30,60,90,120,150,180], "labels": false, "tickSize": -4, "title": null}},
          "y": {"field": "y", "type": "quantitative", "axis": {"orient": "right", "tickCount": 10, "labels": false, "tickSize": {"condition": {"test": "datum.value == 1 || datum.value == 0.1 || datum.value == 0.01 || datum.value == 0.001", "value": -5}, "value": -2.5}, "title": null}},
          "stroke": {"datum": "calculated at E=11.960", "scale": {"range": ["black"]}, "legend": {"title": null, "legendX": 3, "legendY": 11.5, "symbolType": "stroke", "symbolStrokeWidth": 1.2}}
         }},
        {"data": {"name": "e1196"}, "mark": {"type": "point", "filled": true, "color": "black", "size": 289, "clip": true},
         "encoding": {
          "x": {"field": "t", "type": "quantitative", "axis": null},
          "y": {"field": "y", "type": "quantitative", "axis": null},
          "shape": {"datum": "12c(n,n)12c:J,NSE,61,521,7612:D.W.Glasgow+", "scale": {"range": ["M-0.15,-0.3H0.15V0.3H-0.15Z"]}, "legend": {"title": null, "legendX": 3, "legendY": 16, "symbolFillColor": "black", "symbolStrokeWidth": 0}}
         }}
       ],
       "resolve": {"axis": {"x": "independent", "y": "independent"}}
      },
      {
       "width": 247, "height": 172,
       "title": {"text": "12c(n,n)12c dσ/dΩ E=\u00a0\u00a0 12.490 MeV"},
       "layer": [
        {"data": {"name": "c1249"}, "mark": {"type": "area", "interpolate": "monotone", "color": "#a5a5a5", "clip": true},
         "encoding": {
          "x": {"field": "t", "type": "quantitative", "scale": {"domain": [0, 180], "nice": false}, "axis": {"orient": "bottom", "values": [0,30,60,90,120,150,180], "labelFontSize": 7, "labelFlush": false, "tickSize": -4, "labelPadding": 7, "title": "θ", "titleFontSize": 7.5, "titlePadding": 2}},
          "y": {"field": "lo", "type": "quantitative", "scale": {"type": "log", "domain": [0.004, 5.5], "nice": false}, "axis": {"orient": "left", "tickCount": 10, "labelOverlap": false, "labelExpr": "datum.value == 1 ? '10⁰' : datum.value == 0.1 ? '10⁻¹' : datum.value == 0.01 ? '10⁻²' : datum.value == 0.001 ? '10⁻³' : ''", "labelFontSize": 7, "tickSize": {"condition": {"test": "datum.value == 1 || datum.value == 0.1 || datum.value == 0.01 || datum.value == 0.001", "value": -5}, "value": -2.5}, "labelPadding": 7, "title": "dσ/dΩ", "titleFontSize": 7.5, "titlePadding": 3}},
          "y2": {"field": "hi"},
          "fill": {"datum": "90% CI", "scale": {"range": ["#a5a5a5"]}, "legend": {"title": null, "legendX": 7, "legendY": 7, "symbolType": "M-1,-0.22H1V0.22H-1Z", "symbolStrokeWidth": 0}}
         }},
        {"data": {"name": "c1249"}, "mark": {"type": "line", "interpolate": "monotone", "strokeWidth": 1.1, "clip": true},
         "encoding": {
          "x": {"field": "t", "type": "quantitative", "axis": {"orient": "top", "values": [0,30,60,90,120,150,180], "labels": false, "tickSize": -4, "title": null}},
          "y": {"field": "y", "type": "quantitative", "axis": {"orient": "right", "tickCount": 10, "labels": false, "minExtent": 0, "tickSize": {"condition": {"test": "datum.value == 1 || datum.value == 0.1 || datum.value == 0.01 || datum.value == 0.001", "value": -5}, "value": -2.5}, "title": null}},
          "stroke": {"datum": "calculated at E=12.490", "scale": {"range": ["black"]}, "legend": {"title": null, "legendX": 7, "legendY": 11.5, "symbolType": "stroke", "symbolStrokeWidth": 1.2}}
         }},
        {"data": {"name": "e1249"}, "mark": {"type": "point", "filled": true, "color": "black", "size": 289, "clip": true},
         "encoding": {
          "x": {"field": "t", "type": "quantitative", "axis": null},
          "y": {"field": "y", "type": "quantitative", "axis": null},
          "shape": {"datum": "12c(n,n)12c:J,NSE,61,521,7612:D.W.Glasgow+", "scale": {"range": ["M-0.15,-0.3H0.15V0.3H-0.15Z"]}, "legend": {"title": null, "legendX": 7, "legendY": 16, "symbolFillColor": "black", "symbolStrokeWidth": 0}}
         }}
       ],
       "resolve": {"axis": {"x": "independent", "y": "independent"}}
      }
     ]
    }
   ]
  }
 ]
}
